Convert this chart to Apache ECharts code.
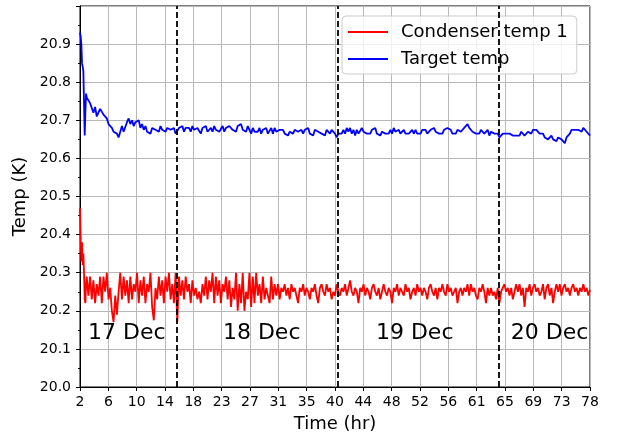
<!DOCTYPE html>
<html>
<head>
<meta charset="utf-8">
<script src="https://cdn.jsdelivr.net/npm/echarts@6/dist/echarts.min.js"></script>
<style>html,body{margin:0;padding:0;background:#fff;}#c{width:617px;height:434px;}</style>
</head>
<body>
<div id="c"></div>
<script>
const times = [
2.0,2.1,2.2,2.3,2.4,2.5,2.6,2.7,2.8,2.9,3.0,
3.25,3.5,3.75,4.0, 4.25,4.5,4.75,5.0, 5.25,5.5,5.75,6.0, 6.25,6.5,6.75,7.0,
7.25,7.5,7.75,8.0, 8.25,8.5,8.75,9.0, 9.25,9.5,9.75,10.0, 10.25,10.5,10.75,11.0,
11.25,11.5,11.75,12.0, 12.25,12.5,12.75,13.0, 13.25,13.5,13.75,14.0, 14.25,14.5,14.75,15.0,
15.25,15.5,15.75,16.0, 16.25,16.5,16.75,17.0, 17.25,17.5,17.75,18.0, 18.25,18.5,18.75,19.0,
19.25,19.5,19.75,20.0, 20.25,20.5,20.75,21.0, 21.25,21.5,21.75,22.0, 22.25,22.5,22.75,23.0,
23.25,23.5,23.75,24.0, 24.25,24.5,24.75,25.0, 25.25,25.5,25.75,26.0, 26.25,26.5,26.75,27.0,
27.25,27.5,27.75,28.0, 28.25,28.5,28.75,29.0, 29.25,29.5,29.75,30.0,
30.25,30.5,30.75,31.0, 31.25,31.5,31.75,32.0, 32.25,32.5,32.75,33.0, 33.25,33.5,33.75,34.0,
34.25,34.5,34.75,35.0, 35.25,35.5,35.75,36.0, 36.25,36.5,36.75,37.0, 37.25,37.5,37.75,38.0,
38.25,38.5,38.75,39.0, 39.25,39.5,39.75,40.0, 40.25,40.5,40.75,41.0, 41.25,41.5,41.75,42.0,
42.25,42.5,42.75,43.0, 43.25,43.5,43.75,44.0, 44.25,44.5,44.75,45.0, 45.25,45.5,45.75,46.0,
46.25,46.5,46.75,47.0, 47.25,47.5,47.75,48.0, 48.25,48.5,48.75,49.0, 49.25,49.5,49.75,50.0,
50.25,50.5,50.75,51.0, 51.25,51.5,51.75,52.0, 52.25,52.5,52.75,53.0, 53.25,53.5,53.75,54.0,
54.25,54.5,54.75,55.0, 55.25,55.5,55.75,56.0, 56.25,56.5,56.75,57.0, 57.25,57.5,57.75,58.0,
58.25,58.5,58.75,59.0, 59.25,59.5,59.75,60.0, 60.25,60.5,60.75,61.0, 61.25,61.5,61.75,62.0,
62.25,62.5,62.75,63.0, 63.25,63.5,63.75,64.0, 64.25,64.5,64.75,65.0, 65.25,65.5,65.75,66.0,
66.25,66.5,66.75,67.0, 67.25,67.5,67.75,68.0, 68.25,68.5,68.75,69.0, 69.25,69.5,69.75,70.0,
70.25,70.5,70.75,71.0, 71.25,71.5,71.75,72.0, 72.25,72.5,72.75,73.0, 73.25,73.5,73.75,74.0,
74.25,74.5,74.75,75.0, 75.25,75.5,75.75,76.0, 76.25,76.5,76.75,77.0, 77.25,77.5,77.75,78.0
];

const condenserTemp1 = [
20.47,20.39,20.33,20.38,20.32,20.35,20.30,20.23,20.22,20.27,20.29,
20.24,20.29,20.23,20.28, 20.22,20.27,20.24,20.29, 20.22,20.29,20.25,20.30, 20.23,20.26,20.20,20.17,
20.24,20.19,20.25,20.30, 20.23,20.29,20.24,20.28, 20.22,20.29,20.23,20.27, 20.25,20.30,20.22,20.28,
20.24,20.29,20.22,20.27, 20.25,20.30,20.21,20.175, 20.26,20.23,20.29,20.24, 20.28,20.22,20.29,20.25,
20.30,20.23,20.27,20.22, 20.30,20.17,20.29,20.24, 20.28,20.23,20.29,20.25, 20.27,20.22,20.28,20.24,
20.26,20.23,20.25,20.22, 20.27,20.24,20.29,20.23, 20.28,20.25,20.30,20.22, 20.29,20.24,20.28,20.22,
20.27,20.25,20.29,20.23, 20.28,20.21,20.26,20.23, 20.30,20.20,20.27,20.22, 20.30,20.20,20.25,20.23,
20.30,20.21,20.29,20.22, 20.30,20.24,20.27,20.22, 20.29,20.23,20.26,20.24,
20.22,20.29,20.23,20.27, 20.24,20.27,20.23,20.26, 20.25,20.27,20.24,20.26, 20.23,20.27,20.25,20.26,
20.24,20.22,20.26,20.25, 20.27,20.24,20.26,20.25, 20.23,20.26,20.25,20.27, 20.24,20.22,20.26,20.27,
20.25,20.24,20.27,20.25, 20.26,20.23,20.25,20.24, 20.27,20.25,20.24,20.26, 20.25,20.27,20.24,20.26,
20.28,20.25,20.24,20.26, 20.25,20.22,20.26,20.25, 20.27,20.24,20.26,20.25, 20.23,20.26,20.27,20.25,
20.24,20.26,20.23,20.25, 20.27,20.25,20.24,20.26, 20.25,20.22,20.26,20.25, 20.27,20.24,20.26,20.25,
20.24,20.27,20.25,20.26, 20.23,20.25,20.26,20.24, 20.27,20.25,20.26,20.24, 20.26,20.25,20.23,20.26,
20.27,20.25,20.24,20.26, 20.23,20.26,20.25,20.27, 20.25,20.24,20.27,20.25, 20.26,20.24,20.25,20.26,
20.22,20.25,20.26,20.24, 20.26,20.25,20.27,20.24, 20.27,20.25,20.26,20.24, 20.23,20.26,20.25,20.27,
20.25,20.22,20.26,20.24, 20.26,20.24,20.25,20.23, 20.26,20.22,20.25,20.26, 20.27,20.25,20.26,20.24,
20.26,20.23,20.25,20.27, 20.25,20.27,20.24,20.26, 20.21,20.26,20.25,20.27, 20.24,20.26,20.27,20.25,
20.26,20.24,20.25,20.27, 20.23,20.26,20.27,20.24, 20.26,20.22,20.25,20.27, 20.25,20.27,20.24,20.26,
20.27,20.25,20.26,20.24, 20.26,20.27,20.25,20.26, 20.24,20.26,20.25,20.27, 20.25,20.26,20.24,20.255
];

const targetTemp = [
20.93,20.92,20.90,20.85,20.84,20.83,20.825,20.66,20.72,20.77,20.76,
20.76,20.745,20.75,20.72, 20.735,20.71,20.72,20.73, 20.725,20.715,20.72,20.705, 20.69,20.695,20.68,20.67,
20.675,20.665,20.655,20.67, 20.685,20.67,20.675,20.695, 20.705,20.69,20.70,20.685, 20.695,20.69,20.70,20.68,
20.69,20.675,20.685,20.67, 20.675,20.665,20.68,20.685, 20.675,20.68,20.67,20.685, 20.675,20.68,20.67,20.68,
20.685,20.675,20.67,20.68, 20.665,20.67,20.68,20.675, 20.685,20.67,20.68,20.675, 20.68,20.67,20.685,20.675,
20.67,20.68,20.675,20.665, 20.68,20.675,20.685,20.67, 20.675,20.68,20.67,20.685, 20.675,20.68,20.67,20.675,
20.685,20.67,20.68,20.675, 20.685,20.69,20.675,20.68, 20.67,20.685,20.68,20.69, 20.675,20.68,20.67,20.685,
20.675,20.665,20.68,20.67, 20.675,20.67,20.68,20.665, 20.675,20.67,20.68,20.665,
20.67,20.68,20.665,20.68, 20.67,20.665,20.675,20.67, 20.675,20.665,20.67,20.66, 20.67,20.675,20.665,20.675,
20.68,20.67,20.665,20.675, 20.665,20.675,20.67,20.68, 20.665,20.67,20.66,20.675, 20.68,20.67,20.675,20.665,
20.67,20.66,20.675,20.67, 20.665,20.675,20.67,20.665, 20.655,20.665,20.67,20.665, 20.675,20.665,20.68,20.67,
20.68,20.665,20.675,20.66, 20.675,20.665,20.67,20.68, 20.67,20.675,20.665,20.67, 20.665,20.675,20.67,20.68,
20.665,20.67,20.66,20.67, 20.675,20.665,20.67,20.665, 20.675,20.665,20.68,20.67, 20.665,20.675,20.665,20.67,
20.675,20.665,20.67,20.665, 20.67,20.675,20.665,20.675, 20.665,20.67,20.665,20.675, 20.67,20.675,20.665,20.67,
20.675,20.67,20.68,20.67, 20.675,20.665,20.67,20.665, 20.675,20.67,20.68,20.685, 20.675,20.665,20.67,20.665,
20.675,20.68,20.67,20.675, 20.68,20.685,20.69,20.68, 20.675,20.67,20.675,20.665, 20.67,20.665,20.675,20.67,
20.665,20.67,20.675,20.66, 20.67,20.675,20.665,20.67, 20.665,20.655,20.66,20.665, 20.66,20.665,20.66,20.665,
20.67,20.66,20.665,20.66, 20.665,20.66,20.67,20.665, 20.66,20.665,20.67,20.665, 20.665,20.675,20.68,20.675,
20.67,20.665,20.66,20.665, 20.655,20.66,20.65,20.655, 20.66,20.65,20.655,20.645, 20.655,20.66,20.65,20.655,
20.64,20.655,20.66,20.665, 20.675,20.68,20.675,20.68, 20.675,20.68,20.67,20.68, 20.675,20.67,20.665,20.66
];

const dayBoundaries = [16.4, 40.4, 64.4];
const dayLabelText = ['17 Dec', '18 Dec', '19 Dec', '20 Dec'];
const dayLabelX = [3.2, 23.3, 46.1, 66.2];
const dayLabelY = 20.14;

const seriesNames = ['Condenser temp 1', 'Target temp'];

const FONT = 'DejaVu Sans';
const chart = echarts.init(document.getElementById('c'), null, {renderer: 'canvas'});

chart.setOption({
  animation: false,
  backgroundColor: '#fff',
  textStyle: {fontFamily: FONT},
  grid: {left: 80, right: 27, top: 6, bottom: 47, containLabel: false, outerBoundsMode: 'none',
    show: true, borderColor: '#000', borderWidth: 1, backgroundColor: 'transparent'},
  legend: {
    data: seriesNames,
    orient: 'vertical',
    left: 342, top: 16,
    padding: [7, 9, 6, 6],
    itemWidth: 40, itemHeight: 2, itemGap: 9,
    icon: 'rect',
    backgroundColor: 'rgba(255,255,255,0.8)',
    borderColor: '#cccccc', borderWidth: 1, borderRadius: 4,
    textStyle: {fontFamily: FONT, fontSize: 18, color: '#000', lineHeight: 18, padding: [0, 0, 0, 8]}
  },
  xAxis: {
    type: 'value', min: 2, max: 78, interval: 76 / 18,
    name: 'Time (hr)', nameLocation: 'middle', nameGap: 28,
    nameTextStyle: {fontFamily: FONT, fontSize: 18, color: '#000'},
    axisLine: {show: true, lineStyle: {color: '#000', width: 1}},
    axisTick: {show: true, length: 4, lineStyle: {color: '#000'}},
    axisLabel: {fontFamily: FONT, fontSize: 14, color: '#000', margin: 8,
      formatter: v => String(Math.floor(v + 1e-6))},
    splitLine: {show: true, lineStyle: {color: '#b8b8b8', width: 1}}
  },
  yAxis: {
    type: 'value', min: 20, max: 21, interval: 0.1,
    name: 'Temp (K)', nameLocation: 'middle', nameGap: 39,
    nameTextStyle: {fontFamily: FONT, fontSize: 18, color: '#000'},
    axisLine: {show: true, lineStyle: {color: '#000', width: 1}},
    axisTick: {show: true, length: 4, lineStyle: {color: '#000'}},
    minorTick: {show: true, splitNumber: 2, length: 2, lineStyle: {color: '#000'}},
    axisLabel: {fontFamily: FONT, fontSize: 14, color: '#000', margin: 9, showMaxLabel: false,
      formatter: v => v.toFixed(1)},
    splitLine: {show: true, lineStyle: {color: '#b8b8b8', width: 1}}
  },
  series: [
    {
      name: seriesNames[0], type: 'line', symbol: 'none',
      data: times.map((t, i) => [t, condenserTemp1[i]]),
      lineStyle: {color: '#ff0000', width: 1.8}, itemStyle: {color: '#ff0000'},
      z: 3
    },
    {
      name: seriesNames[1], type: 'line', symbol: 'none',
      data: times.map((t, i) => [t, targetTemp[i]]),
      lineStyle: {color: '#0000ff', width: 1.8}, itemStyle: {color: '#0000ff'},
      z: 3,
      markLine: {
        silent: true, symbol: ['none', 'none'], label: {show: false},
        lineStyle: {color: '#000', type: [6, 3], width: 1.8},
        data: dayBoundaries.map(x => ({xAxis: x}))
      }
    },
    {
      name: 'days', type: 'scatter', symbolSize: 0, silent: true,
      data: dayLabelX.map((x, i) => ({name: dayLabelText[i], value: [x, dayLabelY]})),
      label: {show: true, position: 'right', distance: 0, formatter: '{b}',
        fontFamily: FONT, fontSize: 22, color: '#000', opacity: 1},
      emphasis: {disabled: true},
      z: 4
    }
  ]
});
</script>
</body>
</html>
